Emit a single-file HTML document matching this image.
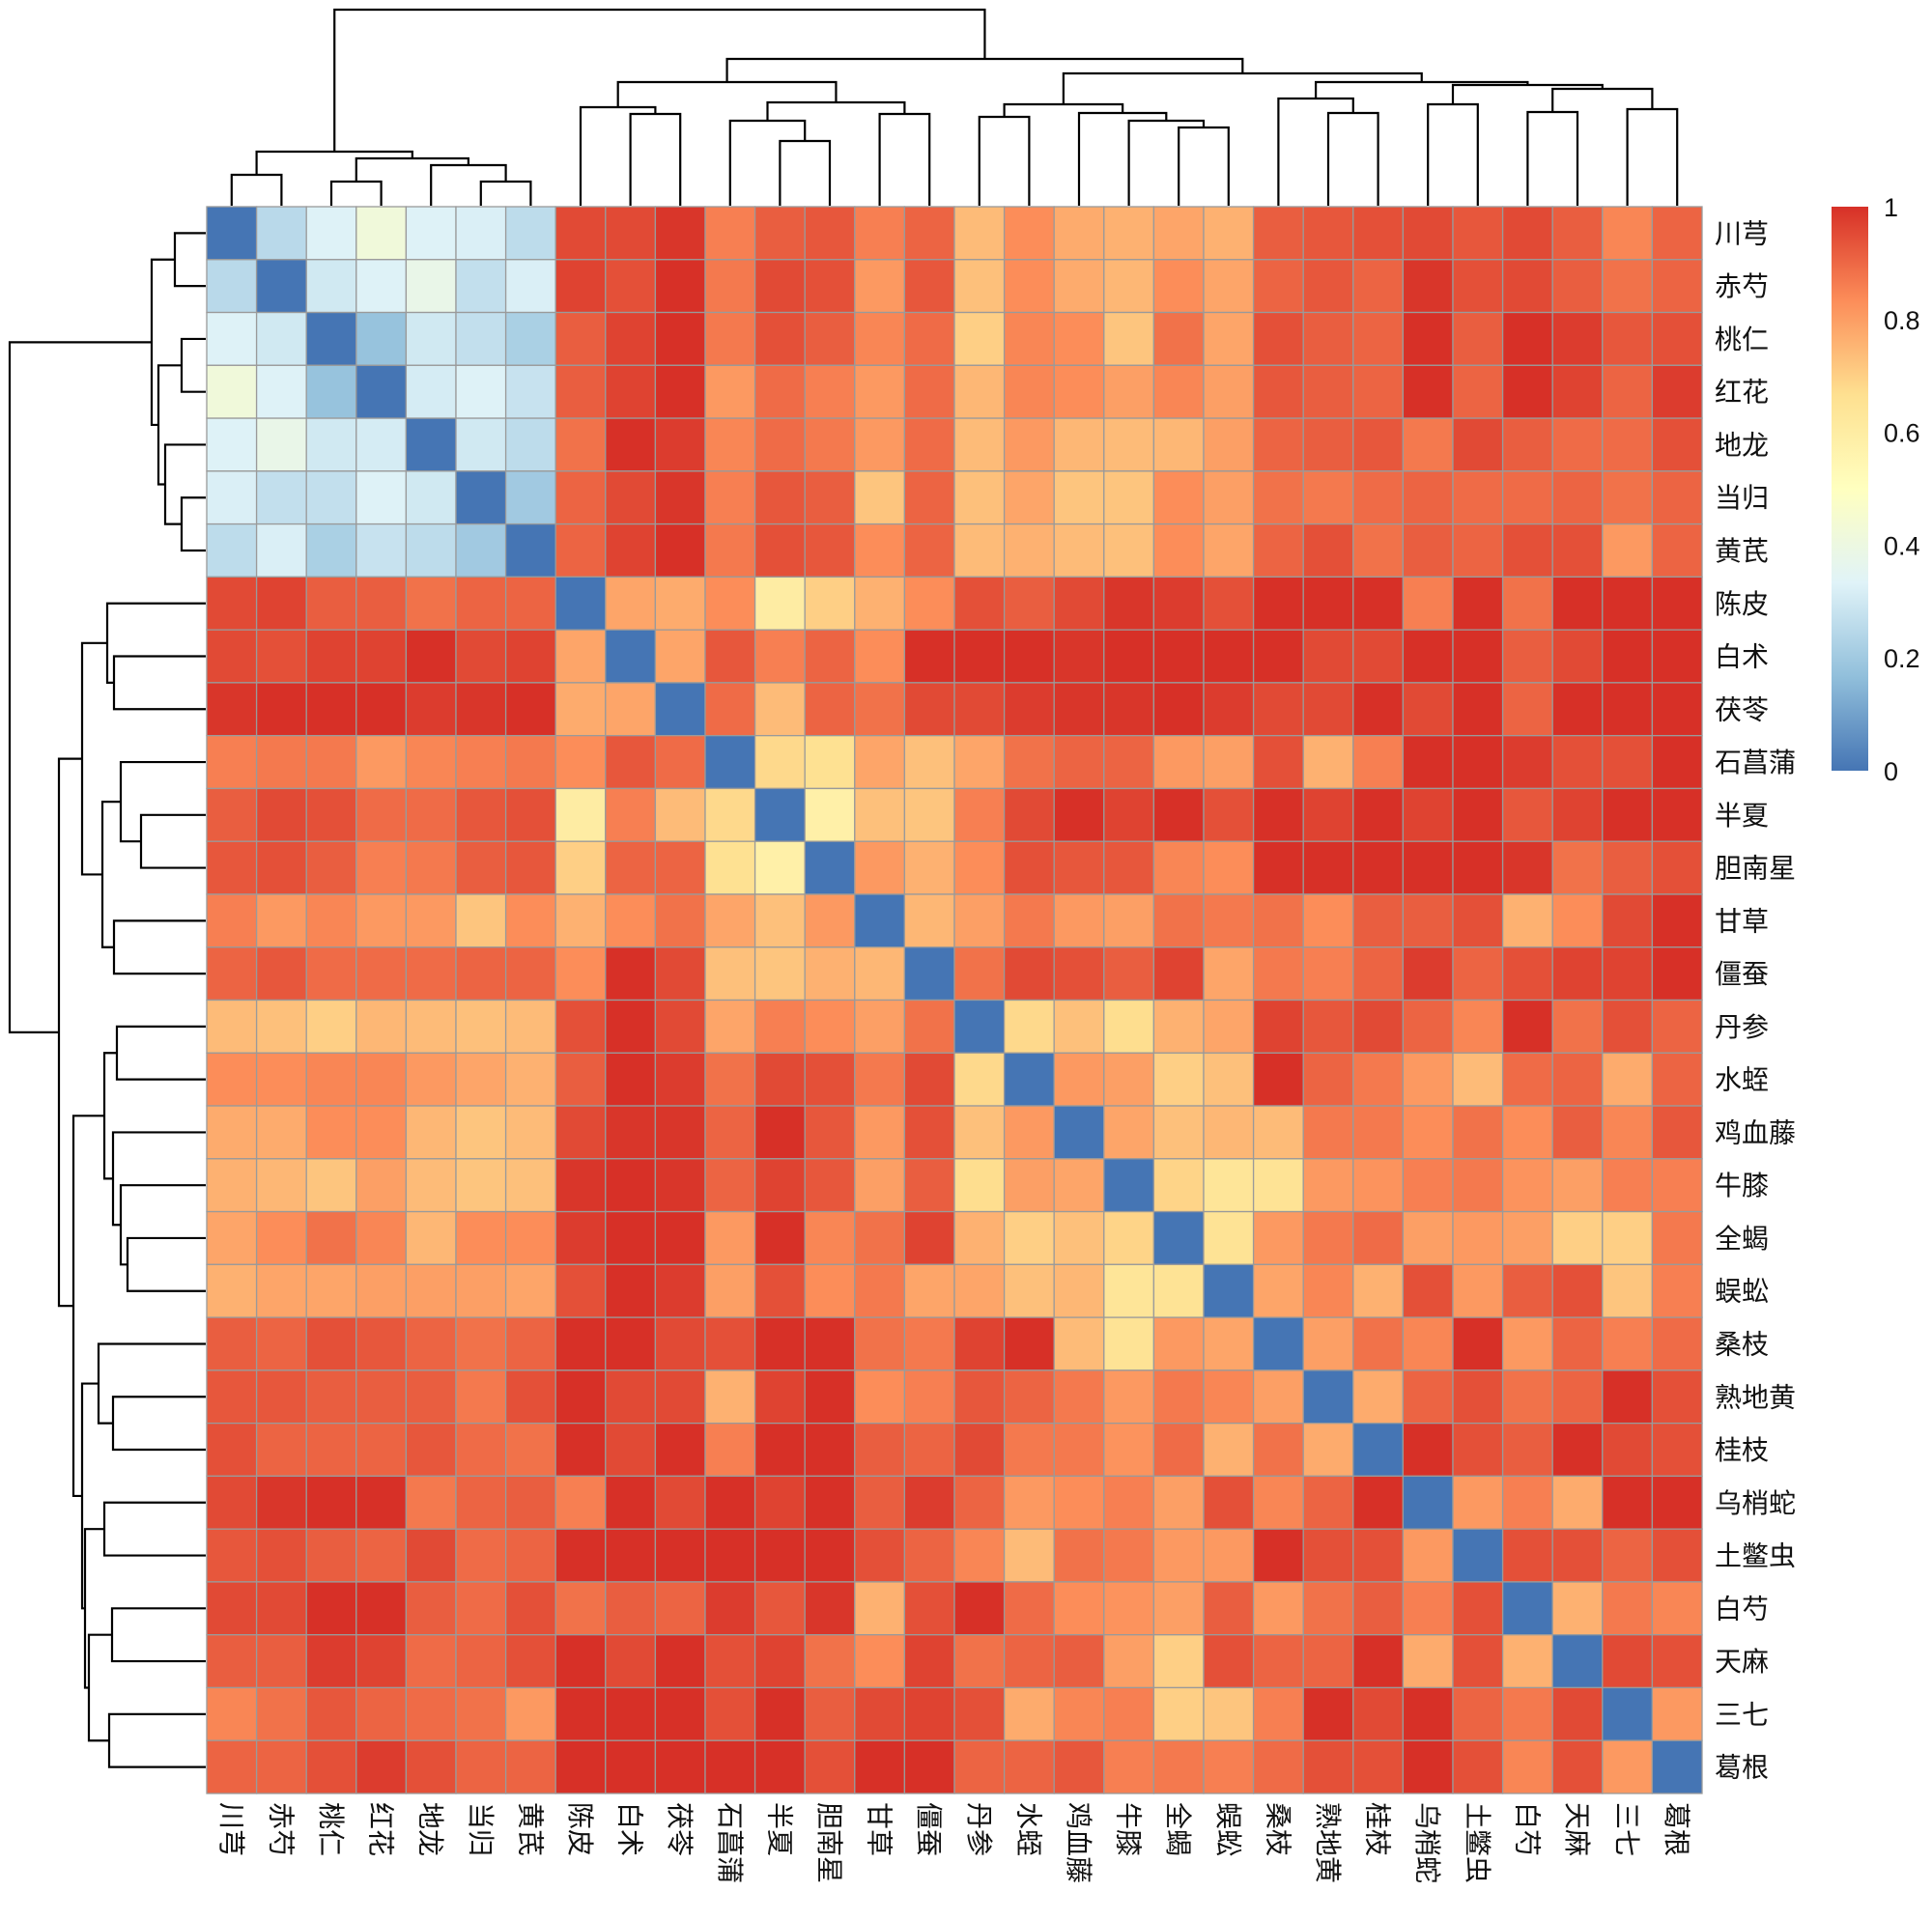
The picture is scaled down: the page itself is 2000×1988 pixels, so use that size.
<!DOCTYPE html>
<html><head><meta charset="utf-8"><style>
html,body{margin:0;padding:0;background:#fff;}
svg{display:block;}
text{font-family:"Liberation Sans","Noto Sans CJK SC",sans-serif;}
</style></head>
<body>
<svg id="chart" width="2000" height="1988" viewBox="0 0 2000 1988" xmlns="http://www.w3.org/2000/svg">
<defs>
<linearGradient id="cbgrad" x1="0" y1="1" x2="0" y2="0">
<stop offset="0" stop-color="#4575B4"/><stop offset="0.1667" stop-color="#91BFDB"/><stop offset="0.3333" stop-color="#E0F3F8"/><stop offset="0.5" stop-color="#FFFFBF"/><stop offset="0.6667" stop-color="#FEE090"/><stop offset="0.8333" stop-color="#FC8D59"/><stop offset="1" stop-color="#D73027"/>
</linearGradient>
</defs>
<g id="cells"></g>
<g id="coldendro"></g>
<g id="rowdendro"></g>
<g id="rowlabels"></g>
<g id="collabels"></g>
<g id="legend">
<rect x="1896" y="214" width="38" height="584" fill="url(#cbgrad)"/>
</g>
</svg>
<script>
const labels = ["川芎","赤芍","桃仁","红花","地龙","当归","黄芪","陈皮","白术","茯苓","石菖蒲","半夏","胆南星","甘草","僵蚕","丹参","水蛭","鸡血藤","牛膝","全蝎","蜈蚣","桑枝","熟地黄","桂枝","乌梢蛇","土鳖虫","白芍","天麻","三七","葛根"];
const upper0 = [0.25,0.33,0.42,0.33,0.32,0.26,0.92,0.92,0.95,0.84,0.89,0.9,0.84,0.88,0.74,0.82,0.77,0.76,0.78,0.76,0.89,0.9,0.91,0.92,0.9,0.92,0.89,0.83,0.88];
const upper1 = [0.3,0.33,0.38,0.27,0.32,0.93,0.91,0.96,0.85,0.92,0.91,0.8,0.9,0.73,0.82,0.77,0.75,0.82,0.78,0.88,0.9,0.88,0.95,0.91,0.92,0.89,0.86,0.88];
const upper2 = [0.18,0.3,0.27,0.22,0.89,0.93,0.97,0.85,0.91,0.89,0.83,0.87,0.7,0.83,0.82,0.72,0.86,0.78,0.91,0.89,0.88,0.96,0.89,0.98,0.94,0.9,0.91];
const upper3 = [0.31,0.33,0.28,0.89,0.93,0.96,0.8,0.87,0.84,0.8,0.87,0.75,0.83,0.82,0.79,0.83,0.79,0.9,0.89,0.88,0.97,0.88,0.98,0.93,0.88,0.94];
const upper4 = [0.3,0.26,0.86,0.96,0.94,0.83,0.87,0.85,0.8,0.87,0.74,0.8,0.75,0.74,0.75,0.79,0.88,0.89,0.9,0.85,0.92,0.89,0.87,0.87,0.91];
const upper5 = [0.2,0.88,0.92,0.95,0.84,0.9,0.89,0.72,0.88,0.73,0.78,0.72,0.72,0.82,0.79,0.86,0.85,0.87,0.88,0.87,0.87,0.88,0.86,0.88];
const upper6 = [0.88,0.93,0.96,0.85,0.91,0.9,0.82,0.88,0.74,0.76,0.74,0.73,0.82,0.78,0.88,0.91,0.86,0.89,0.88,0.91,0.91,0.8,0.88];
const upper7 = [0.78,0.77,0.82,0.6,0.7,0.76,0.82,0.91,0.89,0.92,0.95,0.94,0.91,0.97,0.97,0.97,0.84,0.97,0.86,0.97,0.97,0.97];
const upper8 = [0.78,0.9,0.84,0.88,0.82,0.97,0.97,0.97,0.95,0.97,0.96,0.97,0.96,0.92,0.92,0.96,0.96,0.89,0.92,0.97,0.97];
const upper9 = [0.87,0.74,0.88,0.86,0.92,0.92,0.94,0.95,0.95,0.96,0.94,0.92,0.92,0.96,0.92,0.97,0.88,0.97,0.97,0.96];
const upper10 = [0.68,0.66,0.78,0.73,0.78,0.86,0.88,0.88,0.8,0.79,0.91,0.76,0.84,0.97,0.96,0.94,0.91,0.91,0.96];
const upper11 = [0.58,0.73,0.72,0.84,0.92,0.96,0.93,0.96,0.91,0.97,0.93,0.97,0.93,0.97,0.9,0.93,0.97,0.97];
const upper12 = [0.8,0.76,0.82,0.91,0.9,0.9,0.83,0.82,0.97,0.97,0.97,0.97,0.97,0.95,0.86,0.89,0.91];
const upper13 = [0.75,0.79,0.85,0.8,0.79,0.86,0.85,0.86,0.82,0.89,0.89,0.91,0.76,0.82,0.92,0.96];
const upper14 = [0.86,0.92,0.91,0.89,0.93,0.78,0.85,0.84,0.88,0.94,0.88,0.91,0.93,0.93,0.97];
const upper15 = [0.68,0.73,0.67,0.76,0.78,0.93,0.9,0.92,0.88,0.83,0.97,0.86,0.91,0.88];
const upper16 = [0.8,0.79,0.7,0.73,0.96,0.88,0.85,0.8,0.74,0.87,0.88,0.77,0.88];
const upper17 = [0.78,0.73,0.75,0.74,0.85,0.85,0.82,0.86,0.82,0.89,0.83,0.9];
const upper18 = [0.69,0.64,0.65,0.8,0.81,0.84,0.85,0.81,0.79,0.84,0.84];
const upper19 = [0.65,0.8,0.85,0.87,0.79,0.8,0.79,0.7,0.7,0.85];
const upper20 = [0.78,0.83,0.76,0.91,0.8,0.89,0.91,0.72,0.84];
const upper21 = [0.79,0.86,0.83,0.97,0.8,0.88,0.84,0.87];
const upper22 = [0.77,0.88,0.91,0.86,0.88,0.96,0.91];
const upper23 = [0.96,0.91,0.89,0.97,0.92,0.91];
const upper24 = [0.8,0.84,0.77,0.96,0.96];
const upper25 = [0.91,0.91,0.88,0.91];
const upper26 = [0.76,0.85,0.83];
const upper27 = [0.92,0.91];
const upper28 = [0.8];
const upperRows = [upper0,upper1,upper2,upper3,upper4,upper5,upper6,upper7,upper8,upper9,upper10,upper11,upper12,upper13,upper14,upper15,upper16,upper17,upper18,upper19,upper20,upper21,upper22,upper23,upper24,upper25,upper26,upper27,upper28];
const legendTicks = [0,0.2,0.4,0.6,0.8,1];
const legendTickLabels = ["0","0.2","0.4","0.6","0.8","1"];
// dendrogram: [left, right, mergeHeight]
const tree = [
  [[0,1,32],[[2,3,25],[4,[5,6,25],42],49],56],
  [[[7,[8,9,95],102],[[10,[11,12,67],88],[13,14,95],107],128],
   [[[15,16,92],[17,[18,[19,20,81],88],96],105],
    [[21,[22,23,96],111],[[24,25,105],[[26,27,97],[28,29,100],121],125],128],137],152],
  203];

const N = labels.length;
const M = [];
for (let i=0;i<N;i++){ M.push(new Array(N).fill(0)); }
for (let i=0;i<N-1;i++){ const r=upperRows[i]; for (let k=0;k<r.length;k++){ const j=i+1+k; M[i][j]=r[k]; M[j][i]=r[k]; } }

const X0=214, Y0=214, W=1548, H=1643;
const cw=W/N, ch=H/N;
const xScale = j => X0 + j*cw;
const yScale = i => Y0 + i*ch;
const hScale = d => d;
const cbScale = v => 798 - v*584;

const stops=[[0,[69,117,180]],[1/6,[145,191,219]],[2/6,[224,243,248]],[3/6,[255,255,191]],[4/6,[254,224,144]],[5/6,[252,141,89]],[1,[215,48,39]]];
function color(v){
  v=Math.max(0,Math.min(1,v));
  if(v>0.75) v=Math.min(1,0.75+(v-0.75)*1.2);
  for(let k=0;k<stops.length-1;k++){
    const [a,ca]=stops[k],[b,cb]=stops[k+1];
    if(v<=b){const t=(v-a)/(b-a);const c=ca.map((x,i)=>Math.round(x+(cb[i]-x)*t));return `rgb(${c[0]},${c[1]},${c[2]})`;}
  }
  return 'rgb(215,48,39)';
}
const NS="http://www.w3.org/2000/svg";
function mk(tag,attrs,parent){const e=document.createElementNS(NS,tag);for(const k in attrs)e.setAttribute(k,attrs[k]);parent.appendChild(e);return e;}

const cells=document.getElementById('cells');
for(let i=0;i<N;i++)for(let j=0;j<N;j++){
  const r=mk('rect',{x:xScale(j),y:yScale(i),width:cw,height:ch,fill:color(M[i][j]),stroke:'#9a9a9a','stroke-width':1.3},cells);
  
  
}

const rl=document.getElementById('rowlabels');
labels.forEach((l,i)=>{
  const t=mk('text',{x:1775,y:yScale(i)+ch/2+10,'font-size':28,fill:'#111'},rl);
  t.textContent=l;
  
  
});
const cl=document.getElementById('collabels');
labels.forEach((l,j)=>{
  const cx=xScale(j)+cw/2;
  const t=mk('text',{x:0,y:0,'font-size':28,fill:'#111',transform:`translate(${cx-10},1866) rotate(90)`},cl);
  t.textContent=l;
  
  
});

const lg=document.getElementById('legend');
legendTicks.forEach((v,k)=>{
  const t=mk('text',{x:1950,y:cbScale(v)+10,'font-size':27,fill:'#111'},lg);
  t.textContent=legendTickLabels[k];
  
  
});

function drawTree(node,g,isCol){
  if(typeof node==='number') return {c:node+0.5,h:0};
  const a=drawTree(node[0],g,isCol), b=drawTree(node[1],g,isCol), h=node[2];
  const pos = isCol ? (c=>xScale(c)) : (c=>yScale(c));
  const lev = isCol ? (d=>Y0-1-hScale(d)) : (d=>X0-1-hScale(d));
  const pa=pos(a.c), pb=pos(b.c);
  const pts = isCol
    ? `${pa},${lev(a.h)} ${pa},${lev(h)} ${pb},${lev(h)} ${pb},${lev(b.h)}`
    : `${lev(a.h)},${pa} ${lev(h)},${pa} ${lev(h)},${pb} ${lev(b.h)},${pb}`;
  const p=mk('polyline',{points:pts,fill:'none',stroke:'#000','stroke-width':2.2},g);
  
  
  return {c:(a.c+b.c)/2,h:h};
}
drawTree(tree,document.getElementById('coldendro'),true);
drawTree(tree,document.getElementById('rowdendro'),false);
</script>
</body></html>
